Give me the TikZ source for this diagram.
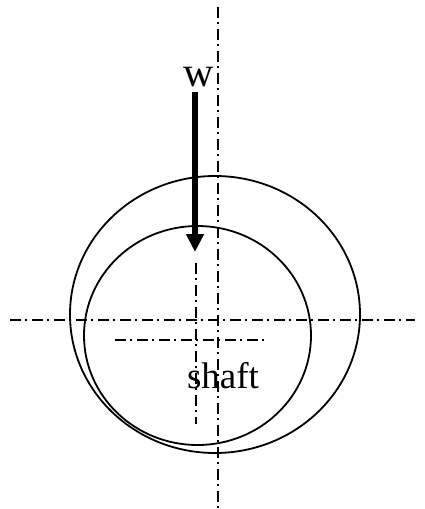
\documentclass[tikz,border=0pt]{standalone}
\usepackage{fontspec}
\setmainfont{Liberation Serif}
\usetikzlibrary{arrows.meta,shapes.geometric}
\tikzset{
  px/.style={x=1pt,y=-1pt},
  circ/.style={draw=black,line width=1.8pt,ellipse,inner sep=0pt},
  cl/.style={draw=black,line width=1.5pt,dash pattern=on 11pt off 4pt on 2pt off 5pt},
  lab/.style={inner sep=0pt,text=black}
}
\begin{document}
\begin{tikzpicture}[px]
\useasboundingbox (0,0) rectangle (425,509);
\coordinate (va) at (218,7); \coordinate (vb) at (218,509);
\coordinate (ha) at (10,320); \coordinate (hb) at (415,320);
\coordinate (ia) at (196,263); \coordinate (ib) at (196,424);
\coordinate (ja) at (115,340); \coordinate (jb) at (264,340);
\draw[cl] (va) -- (vb);
\draw[cl] (ha) -- (hb);
\draw[cl] (ia) -- (ib);
\draw[cl] (ja) -- (jb);
\node[circ,minimum width=290pt,minimum height=277pt] (outer) at (215,314.5) {};
\node[circ,minimum width=227pt,minimum height=219pt] (shaftc) at (197.5,335.5) {};
\node[lab,font=\fontsize{42}{42}\selectfont] (w) at (199,77) {w};
\node[lab,font=\fontsize{37}{37}\selectfont] (s) at (223,376) {shaft};
\coordinate (wb) at (195,92); \coordinate (wt) at (195,252);
\draw[line width=6pt,-{Triangle[length=18pt,width=17pt]}] (wb) -- (wt);
\end{tikzpicture}
\end{document}
